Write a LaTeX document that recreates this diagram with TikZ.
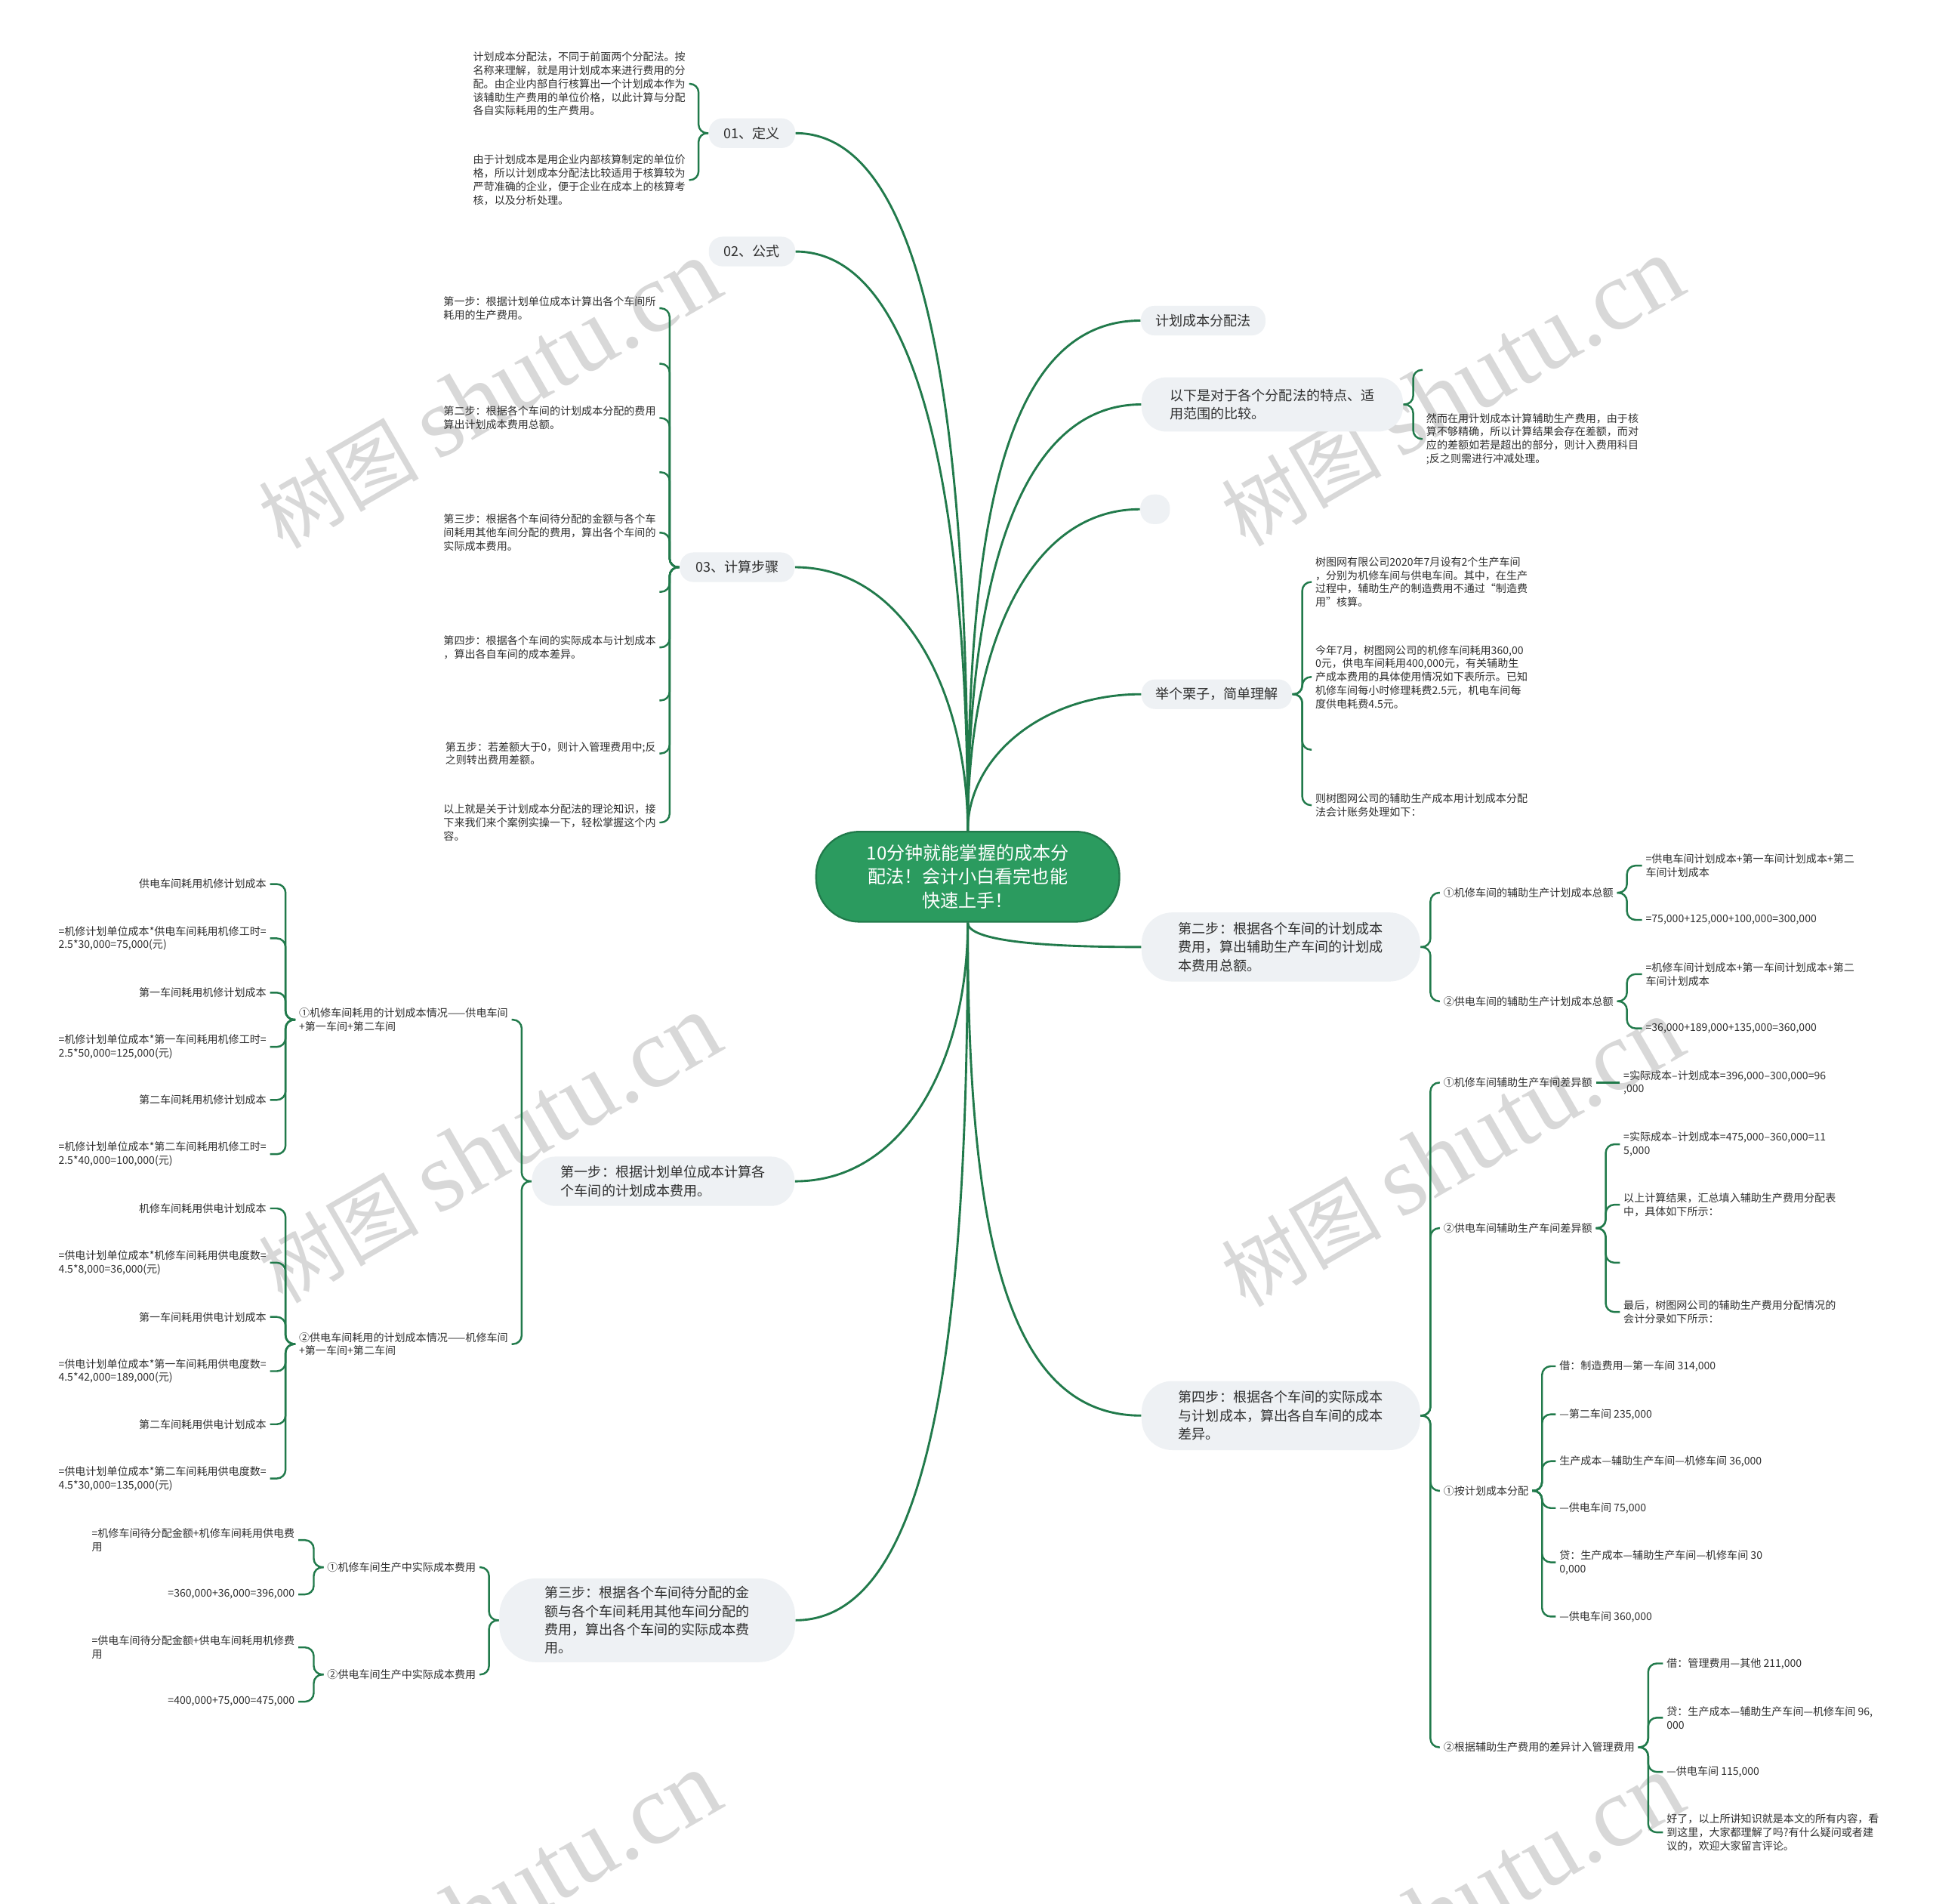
\documentclass[tikz,border=0pt]{standalone}
\usepackage{fontspec}
\setmainfont{Noto Sans CJK SC}
\newfontfamily\markfont{Liberation Serif}
\usepackage{tikz}
\usetikzlibrary{positioning}
\definecolor{MapGreen}{HTML}{217A4B}
\definecolor{RootGreen}{HTML}{2B9B5F}
\definecolor{TopicGray}{HTML}{EEF1F4}
\definecolor{InkGray}{HTML}{2F2F2F}
\definecolor{MarkGray}{HTML}{D8D8D8}

\begin{document}
\begin{tikzpicture}[
    x=0.02cm, y=-0.02cm,
    root/.style={
      fill=RootGreen,
      draw=MapGreen,
      line width=0.8pt,
      rounded corners=0.7cm,
      minimum width=4.92cm,
      minimum height=1.46cm,
      text=white,
      font=\fontsize{8.4}{11}\selectfont,
      align=center
    },
    topic/.style={
      fill=TopicGray,
      rounded corners=#1,
      text=InkGray,
      font=\fontsize{6.3}{8.5}\selectfont,
      align=left,
      inner sep=0pt
    },
    topic/.default=0.22cm,
    leaf/.style={
      text=InkGray,
      font=\fontsize{4.9}{6.2}\selectfont,
      align=left,
      inner sep=1.5pt,
      anchor=#1
    },
    leaf/.default=west,
    stamp/.style={
      text=MarkGray,
      font=\fontsize{37}{40}\selectfont,
      rotate=30,
      inner sep=0pt
    },
    stem/.style={draw=MapGreen, line width=1pt},
    twig/.style={draw=MapGreen, line width=0.85pt, rounded corners=4pt}
  ]

  \useasboundingbox (0,0) rectangle (1568,1544);
  \clip (0,0) rectangle (1568,1544);
  \fill[white] (0,0) rectangle (1568,1544);

  % Watermark
  \foreach \mx/\my [count=\mk] in {397/320, 1178/318, 397/932, 1178/935, 397/1546, 1178/1548}
    \node[stamp] (stamp\mk) at (\mx,\my) {树图 {\markfont\fontsize{46}{50}\selectfont shutu.cn}};

  % Root
  \node[root] (root) at (785,711) {10分钟就能掌握的成本分\\配法！会计小白看完也能\\快速上手！};

  % Left topics
  \node[topic, minimum width=1.4cm, minimum height=0.48cm] (def) at (610,108) {01、定义};
  \node[topic, minimum width=1.4cm, minimum height=0.48cm] (formula) at (610,204) {02、公式};
  \node[topic, minimum width=1.86cm, minimum height=0.48cm] (steps) at (598,460) {03、计算步骤};
  \node[topic=0.38cm, minimum width=4.26cm, minimum height=0.8cm] (first) at (538,958)
    {第一步：根据计划单位成本计算各\\个车间的计划成本费用。};
  \node[topic=0.6cm, minimum width=4.8cm, minimum height=1.36cm] (third) at (525,1314)
    {第三步：根据各个车间待分配的金\\额与各个车间耗用其他车间分配的\\费用，算出各个车间的实际成本费\\用。};

  % Right topics
  \node[topic, minimum width=2.02cm, minimum height=0.48cm] (plan) at (976,260) {计划成本分配法};
  \node[topic=0.4cm, minimum width=4.24cm, minimum height=0.88cm] (compare) at (1032,328)
    {以下是对于各个分配法的特点、适\\用范围的比较。};
  \node[topic, minimum width=0.48cm, minimum height=0.48cm] (blank) at (937,413) {};
  \node[topic, minimum width=2.44cm, minimum height=0.48cm] (example) at (987,563) {举个栗子，简单理解};
  \node[topic=0.5cm, minimum width=4.52cm, minimum height=1.12cm] (second) at (1039,768)
    {第二步：根据各个车间的计划成本\\费用，算出辅助生产车间的计划成\\本费用总额。};
  \node[topic=0.5cm, minimum width=4.52cm, minimum height=1.12cm] (fourth) at (1039,1148)
    {第四步：根据各个车间的实际成本\\与计划成本，算出各自车间的成本\\差异。};

  % 01 leaves
  \node[leaf=east] (defa) at (559,68) {计划成本分配法，不同于前面两个分配法。按\\名称来理解，就是用计划成本来进行费用的分\\配。由企业内部自行核算出一个计划成本作为\\该辅助生产费用的单位价格，以此计算与分配\\各自实际耗用的生产费用。};
  \node[leaf=east] (defb) at (559,146) {由于计划成本是用企业内部核算制定的单位价\\格，所以计划成本分配法比较适用于核算较为\\严苛准确的企业，便于企业在成本上的核算考\\核，以及分析处理。};

  % 03 leaves
  \node[leaf=east] (stepa) at (535,250) {第一步：根据计划单位成本计算出各个车间所\\耗用的生产费用。};
  \coordinate (stepx1) at (535,295);
  \node[leaf=east] (stepb) at (535,339) {第二步：根据各个车间的计划成本分配的费用\\算出计划成本费用总额。};
  \coordinate (stepx2) at (535,383);
  \node[leaf=east] (stepc) at (535,432) {第三步：根据各个车间待分配的金额与各个车\\间耗用其他车间分配的费用，算出各个车间的\\实际成本费用。};
  \coordinate (stepx3) at (535,480);
  \node[leaf=east] (stepd) at (535,525) {第四步：根据各个车间的实际成本与计划成本\\，算出各自车间的成本差异。};
  \coordinate (stepx4) at (535,568);
  \node[leaf=east] (stepe) at (535,611) {第五步：若差额大于0，则计入管理费用中;反\\之则转出费用差额。};
  \node[leaf=east] (stepf) at (535,667) {以上就是关于计划成本分配法的理论知识，接\\下来我们来个案例实操一下，轻松掌握这个内\\容。};

  % first step leaves
  \node[leaf=east] (mech) at (415,827) {①机修车间耗用的计划成本情况——供电车间\\+第一车间+第二车间};
  \node[leaf=east] (power) at (415,1090) {②供电车间耗用的计划成本情况——机修车间\\+第一车间+第二车间};
  \node[leaf=east] (mecha) at (219,717) {供电车间耗用机修计划成本};
  \node[leaf=east] (mechb) at (219,761) {=机修计划单位成本*供电车间耗用机修工时=\\2.5*30,000=75,000(元)};
  \node[leaf=east] (mechc) at (219,805) {第一车间耗用机修计划成本};
  \node[leaf=east] (mechd) at (219,849) {=机修计划单位成本*第一车间耗用机修工时=\\2.5*50,000=125,000(元)};
  \node[leaf=east] (meche) at (219,892) {第二车间耗用机修计划成本};
  \node[leaf=east] (mechf) at (219,936) {=机修计划单位成本*第二车间耗用机修工时=\\2.5*40,000=100,000(元)};
  \node[leaf=east] (powera) at (219,980) {机修车间耗用供电计划成本};
  \node[leaf=east] (powerb) at (219,1024) {=供电计划单位成本*机修车间耗用供电度数=\\4.5*8,000=36,000(元)};
  \node[leaf=east] (powerc) at (219,1068) {第一车间耗用供电计划成本};
  \node[leaf=east] (powerd) at (219,1112) {=供电计划单位成本*第一车间耗用供电度数=\\4.5*42,000=189,000(元)};
  \node[leaf=east] (powere) at (219,1155) {第二车间耗用供电计划成本};
  \node[leaf=east] (powerf) at (219,1199) {=供电计划单位成本*第二车间耗用供电度数=\\4.5*30,000=135,000(元)};

  % third step leaves
  \node[leaf=east] (realm) at (389,1271) {①机修车间生产中实际成本费用};
  \node[leaf=east] (realp) at (389,1358) {②供电车间生产中实际成本费用};
  \node[leaf=east] (realma) at (242,1249) {=机修车间待分配金额+机修车间耗用供电费\\用};
  \node[leaf=east] (realmb) at (242,1293) {=360,000+36,000=396,000};
  \node[leaf=east] (realpa) at (242,1336) {=供电车间待分配金额+供电车间耗用机修费\\用};
  \node[leaf=east] (realpb) at (242,1380) {=400,000+75,000=475,000};

  % compare leaves
  \coordinate (comparex) at (1154,300);
  \node[leaf] (comparea) at (1154,356) {然而在用计划成本计算辅助生产费用，由于核\\算不够精确，所以计算结果会存在差额，而对\\应的差额如若是超出的部分，则计入费用科目\\;反之则需进行冲减处理。};

  % example leaves
  \node[leaf] (examplea) at (1064,472) {树图网有限公司2020年7月设有2个生产车间\\，分别为机修车间与供电车间。其中，在生产\\过程中，辅助生产的制造费用不通过“制造费\\用”核算。};
  \node[leaf] (exampleb) at (1064,549) {今年7月，树图网公司的机修车间耗用360,00\\0元，供电车间耗用400,000元，有关辅助生\\产成本费用的具体使用情况如下表所示。已知\\机修车间每小时修理耗费2.5元，机电车间每\\度供电耗费4.5元。};
  \coordinate (examplex) at (1064,608);
  \node[leaf] (examplec) at (1064,653) {则树图网公司的辅助生产成本用计划成本分配\\法会计账务处理如下：};

  % second step leaves
  \node[leaf] (totm) at (1168,724) {①机修车间的辅助生产计划成本总额};
  \node[leaf] (totp) at (1168,812) {②供电车间的辅助生产计划成本总额};
  \node[leaf] (totma) at (1332,702) {=供电车间计划成本+第一车间计划成本+第二\\车间计划成本};
  \node[leaf] (totmb) at (1332,746) {=75,000+125,000+100,000=300,000};
  \node[leaf] (totpa) at (1332,790) {=机修车间计划成本+第一车间计划成本+第二\\车间计划成本};
  \node[leaf] (totpb) at (1332,834) {=36,000+189,000+135,000=360,000};

  % fourth step leaves
  \node[leaf] (diffm) at (1168,878) {①机修车间辅助生产车间差异额};
  \node[leaf] (diffp) at (1168,996) {②供电车间辅助生产车间差异额};
  \node[leaf] (alloc) at (1168,1209) {①按计划成本分配};
  \node[leaf] (admin) at (1168,1417) {②根据辅助生产费用的差异计入管理费用};
  \node[leaf] (diffma) at (1314,878) {=实际成本–计划成本=396,000–300,000=96\\,000};
  \node[leaf] (diffpa) at (1314,928) {=实际成本–计划成本=475,000–360,000=11\\5,000};
  \node[leaf] (diffpb) at (1314,977) {以上计算结果，汇总填入辅助生产费用分配表\\中，具体如下所示：};
  \coordinate (diffpx) at (1314,1024);
  \node[leaf] (diffpc) at (1314,1064) {最后，树图网公司的辅助生产费用分配情况的\\会计分录如下所示：};
  \node[leaf] (alloca) at (1262,1108) {借：制造费用—第一车间 314,000};
  \node[leaf] (allocb) at (1262,1147) {—第二车间 235,000};
  \node[leaf] (allocc) at (1262,1185) {生产成本—辅助生产车间—机修车间 36,000};
  \node[leaf] (allocd) at (1262,1223) {—供电车间 75,000};
  \node[leaf] (alloce) at (1262,1267) {贷：生产成本—辅助生产车间—机修车间 30\\0,000};
  \node[leaf] (allocf) at (1262,1311) {—供电车间 360,000};
  \node[leaf] (admina) at (1349,1349) {借：管理费用—其他 211,000};
  \node[leaf] (adminb) at (1349,1393) {贷：生产成本—辅助生产车间—机修车间 96,\\000};
  \node[leaf] (adminc) at (1349,1437) {—供电车间 115,000};
  \node[leaf] (admind) at (1349,1486) {好了，以上所讲知识就是本文的所有内容，看\\到这里，大家都理解了吗?有什么疑问或者建\\议的，欢迎大家留言评论。};

  % Main branches
  \draw[stem] (root.north) .. controls +(0,-270) and +(120,0) .. (def.east);
  \draw[stem] (root.north) .. controls +(0,-230) and +(110,0) .. (formula.east);
  \draw[stem] (root.north) .. controls +(0,-110) and +(90,0) .. (steps.east);
  \draw[stem] (root.south) .. controls +(0,110) and +(90,0) .. (first.east);
  \draw[stem] (root.south) .. controls +(0,290) and +(120,0) .. (third.east);
  \draw[stem] (root.north) .. controls +(0,-250) and +(-110,0) .. (plan.west);
  \draw[stem] (root.north) .. controls +(0,-200) and +(-100,0) .. (compare.west);
  \draw[stem] (root.north) .. controls +(0,-150) and +(-90,0) .. (blank.west);
  \draw[stem] (root.north) .. controls +(0,-60) and +(-80,0) .. (example.west);
  \draw[stem] (root.south) .. controls +(0,15) and +(-80,0) .. (second.west);
  \draw[stem] (root.south) .. controls +(0,250) and +(-110,0) .. (fourth.west);

  % Brackets, left side
  \foreach \kid in {defa,defb}
    \draw[twig] (def.west) -- ++(-8,0) |- (\kid.east);
  \foreach \kid in {stepa,stepb,stepc,stepd,stepe,stepf}
    \draw[twig] (steps.west) -- ++(-8,0) |- (\kid.east);
  \foreach \kid in {stepx1,stepx2,stepx3,stepx4}
    \draw[twig] (steps.west) -- ++(-8,0) |- (\kid);
  \foreach \kid in {mech,power}
    \draw[twig] (first.west) -- ++(-8,0) |- (\kid.east);
  \foreach \kid in {mecha,mechb,mechc,mechd,meche,mechf}
    \draw[twig] (mech.west) -- ++(-8,0) |- (\kid.east);
  \foreach \kid in {powera,powerb,powerc,powerd,powere,powerf}
    \draw[twig] (power.west) -- ++(-8,0) |- (\kid.east);
  \foreach \kid in {realm,realp}
    \draw[twig] (third.west) -- ++(-8,0) |- (\kid.east);
  \foreach \kid in {realma,realmb}
    \draw[twig] (realm.west) -- ++(-8,0) |- (\kid.east);
  \foreach \kid in {realpa,realpb}
    \draw[twig] (realp.west) -- ++(-8,0) |- (\kid.east);

  % Brackets, right side
  \draw[twig] (compare.east) -- ++(8,0) |- (comparex);
  \draw[twig] (compare.east) -- ++(8,0) |- (comparea.west);
  \foreach \kid in {examplea,exampleb,examplec}
    \draw[twig] (example.east) -- ++(8,0) |- (\kid.west);
  \draw[twig] (example.east) -- ++(8,0) |- (examplex);
  \foreach \kid in {totm,totp}
    \draw[twig] (second.east) -- ++(8,0) |- (\kid.west);
  \foreach \kid in {totma,totmb}
    \draw[twig] (totm.east) -- ++(8,0) |- (\kid.west);
  \foreach \kid in {totpa,totpb}
    \draw[twig] (totp.east) -- ++(8,0) |- (\kid.west);
  \foreach \kid in {diffm,diffp,alloc,admin}
    \draw[twig] (fourth.east) -- ++(8,0) |- (\kid.west);
  \draw[twig] (diffm.east) -- (diffma.west);
  \foreach \kid in {diffpa,diffpb,diffpc}
    \draw[twig] (diffp.east) -- ++(8,0) |- (\kid.west);
  \draw[twig] (diffp.east) -- ++(8,0) |- (diffpx);
  \foreach \kid in {alloca,allocb,allocc,allocd,alloce,allocf}
    \draw[twig] (alloc.east) -- ++(8,0) |- (\kid.west);
  \foreach \kid in {admina,adminb,adminc,admind}
    \draw[twig] (admin.east) -- ++(8,0) |- (\kid.west);

\end{tikzpicture}
\end{document}
